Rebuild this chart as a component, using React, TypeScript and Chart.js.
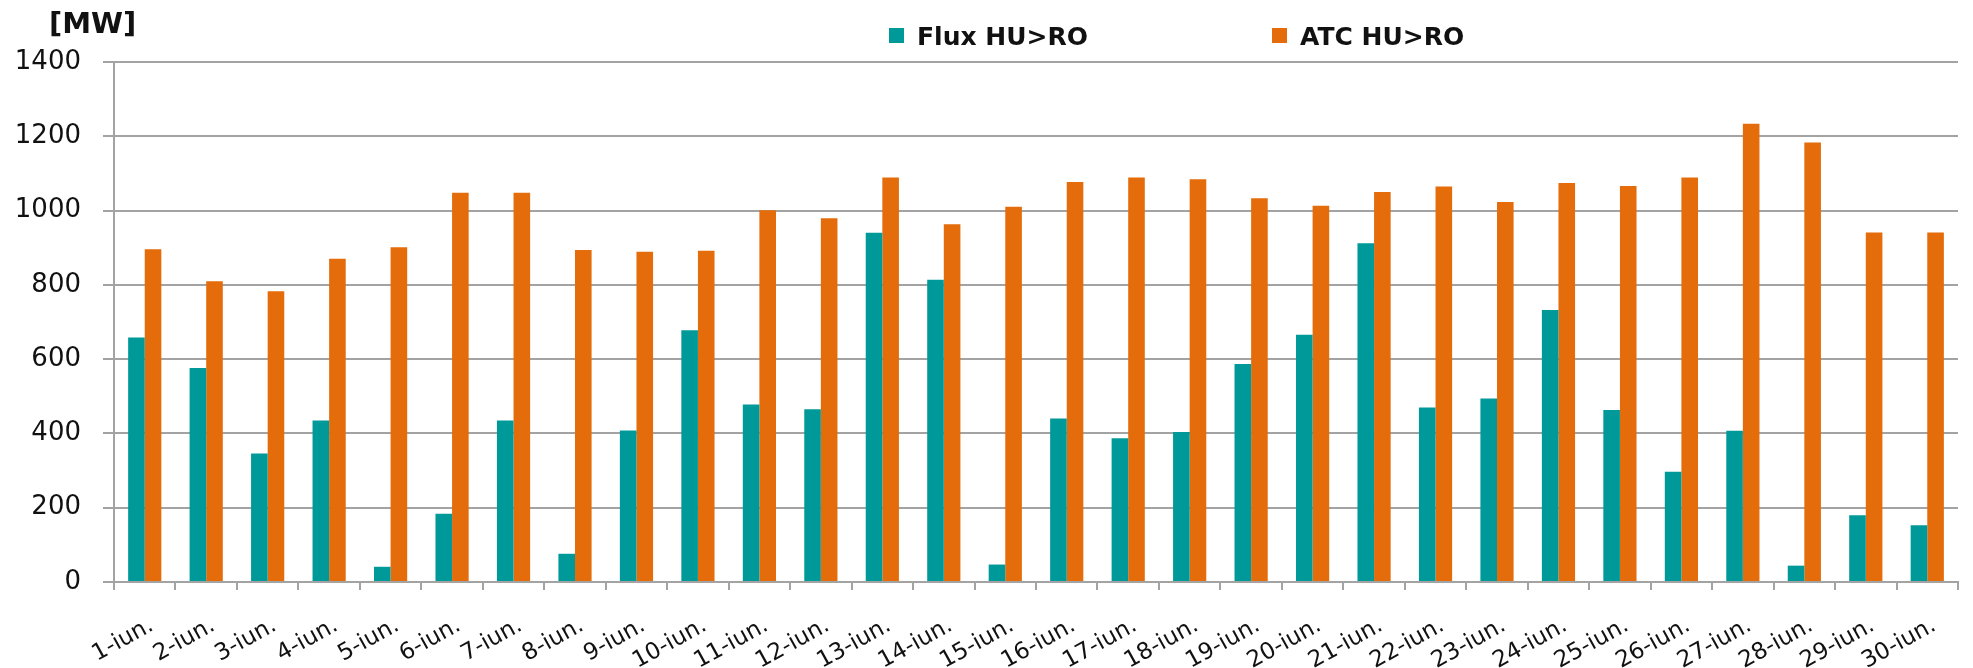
import React, { useEffect, useRef } from "react";
import { Chart, registerables } from "chart.js";

Chart.register(...registerables);

const categories = [
  "1-iun.", "2-iun.", "3-iun.", "4-iun.", "5-iun.", "6-iun.", "7-iun.", "8-iun.", "9-iun.", "10-iun.",
  "11-iun.", "12-iun.", "13-iun.", "14-iun.", "15-iun.", "16-iun.", "17-iun.", "18-iun.", "19-iun.", "20-iun.",
  "21-iun.", "22-iun.", "23-iun.", "24-iun.", "25-iun.", "26-iun.", "27-iun.", "28-iun.", "29-iun.", "30-iun.",
];

const fluxValues = [
  658, 576, 346, 435, 41, 184, 435, 76, 408, 678,
  478, 465, 940, 814, 47, 440, 387, 404, 587, 666,
  912, 470, 494, 732, 463, 297, 407, 44, 180, 153,
];

const atcValues = [
  896, 810, 783, 870, 901, 1048, 1048, 894, 889, 892,
  1001, 979, 1089, 963, 1010, 1077, 1089, 1084, 1033, 1013,
  1050, 1065, 1023, 1074, 1066, 1089, 1234, 1183, 941, 941,
];

const seriesNames = ["Flux HU>RO", "ATC HU>RO"];
const seriesColors = ["#009999", "#E46C0A"];
const unitLabel = "[MW]";
const yMin = 0;
const yMax = 1400;
const yStep = 200;

const FONT = "'DejaVu Sans', sans-serif";
const GRID = "#a3a3a3";

const overlayPlugin = {
  id: "overlay",
  afterDraw(chart: any) {
    const ctx = chart.ctx as CanvasRenderingContext2D;
    ctx.save();
    ctx.fillStyle = "#111";
    ctx.textAlign = "left";
    ctx.textBaseline = "alphabetic";
    ctx.font = `bold 29px ${FONT}`;
    ctx.fillText(unitLabel, 49, 33);

    const legendX = [889, 1272];
    ctx.font = `bold 25px ${FONT}`;
    seriesNames.forEach((name, i) => {
      ctx.fillStyle = seriesColors[i];
      ctx.fillRect(legendX[i], 28, 15, 15);
      ctx.fillStyle = "#111";
      ctx.fillText(name, legendX[i] + 28, 45);
    });
    ctx.restore();
  },
};

export default function App() {
  const canvasRef = useRef<HTMLCanvasElement | null>(null);

  useEffect(() => {
    if (!canvasRef.current) return;
    const chart = new Chart(canvasRef.current, {
      type: "bar",
      data: {
        labels: categories,
        datasets: [
          {
            label: seriesNames[0],
            data: fluxValues,
            backgroundColor: seriesColors[0],
            borderWidth: 0,
            categoryPercentage: 0.54,
            barPercentage: 1.0,
          },
          {
            label: seriesNames[1],
            data: atcValues,
            backgroundColor: seriesColors[1],
            borderWidth: 0,
            categoryPercentage: 0.54,
            barPercentage: 1.0,
          },
        ],
      },
      options: {
        animation: false,
        responsive: false,
        devicePixelRatio: 1,
        layout: { padding: { left: 0, right: 15, top: 62, bottom: 0 } },
        plugins: {
          legend: { display: false },
          title: { display: false },
          tooltip: { enabled: false },
        },
        scales: {
          x: {
            grid: {
              display: true,
              offset: true,
              drawOnChartArea: false,
              drawTicks: true,
              tickLength: 8,
              color: GRID,
              lineWidth: 2,
            },
            border: { display: true, color: GRID, width: 2 },
            ticks: {
              autoSkip: false,
              minRotation: 29,
              maxRotation: 29,
              padding: 22,
              labelOffset: 7,
              color: "#111",
              font: { family: FONT, size: 23 },
            },
            afterFit: (scale: any) => {
              scale.height = 86;
            },
          },
          y: {
            min: yMin,
            max: yMax,
            grid: {
              color: GRID,
              lineWidth: 2,
              drawTicks: true,
              tickLength: 11,
            },
            border: { display: true, color: GRID, width: 2 },
            ticks: {
              stepSize: yStep,
              padding: 22,
              color: "#111",
              font: { family: FONT, size: 26 },
              callback: (value: any) => String(value),
            },
            afterFit: (scale: any) => {
              scale.width = 114;
            },
          },
        },
      },
      plugins: [overlayPlugin],
    });
    return () => chart.destroy();
  }, []);

  return (
    <div style={{ position: "absolute", left: 0, top: 0, width: 1973, height: 668, background: "#fff" }}>
      <canvas ref={canvasRef} width={1973} height={668} style={{ display: "block" }} />
    </div>
  );
}
